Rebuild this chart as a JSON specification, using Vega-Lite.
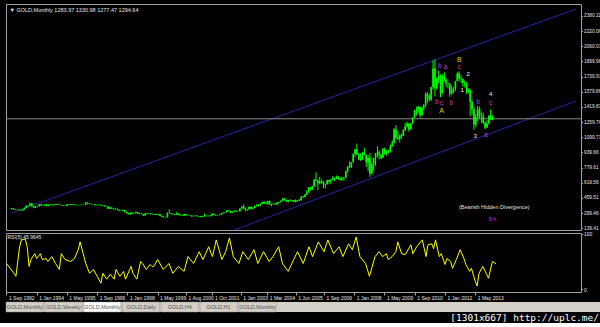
{
"$schema": "https://vega.github.io/schema/vega-lite/v6.json",
"background": "black",
"padding": {"left": 3, "top": 3, "right": 0, "bottom": 0},
"spacing": 0,
"config": {
  "font": "Liberation Sans",
  "view": {"stroke": "#a0a0a0", "strokeWidth": 1},
  "axis": {"labelColor": "#e6e6e6", "labelFontSize": 4.8, "tickColor": "#a0a0a0", "tickSize": 1.5, "domain": false, "grid": false, "title": null, "labelPadding": 1, "labelOverlap": false}
},
"datasets": {
"ohlc": [
{"d":"1992-09","o":341,"h":355,"l":338,"c":349},{"d":"1992-10","o":349,"h":350,"l":336,"c":339},{"d":"1992-11","o":339,"h":341,"l":331,"c":334},{"d":"1992-12","o":334,"h":338,"l":328,"c":333},
{"d":"1993-01","o":333,"h":334,"l":326,"c":330},{"d":"1993-02","o":330,"h":333,"l":326,"c":327},{"d":"1993-03","o":327,"h":340,"l":325,"c":337},{"d":"1993-04","o":337,"h":358,"l":336,"c":354},{"d":"1993-05","o":354,"h":380,"l":352,"c":377},{"d":"1993-06","o":377,"h":382,"l":365,"c":378},{"d":"1993-07","o":378,"h":408,"l":377,"c":401},{"d":"1993-08","o":401,"h":406,"l":365,"c":371},{"d":"1993-09","o":371,"h":372,"l":350,"c":355},{"d":"1993-10","o":355,"h":374,"l":354,"c":370},{"d":"1993-11","o":370,"h":377,"l":365,"c":371},{"d":"1993-12","o":371,"h":394,"l":369,"c":391},
{"d":"1994-01","o":391,"h":396,"l":375,"c":378},{"d":"1994-02","o":378,"h":387,"l":375,"c":381},{"d":"1994-03","o":381,"h":392,"l":377,"c":390},{"d":"1994-04","o":390,"h":392,"l":370,"c":376},{"d":"1994-05","o":376,"h":389,"l":372,"c":387},{"d":"1994-06","o":387,"h":396,"l":383,"c":386},{"d":"1994-07","o":386,"h":389,"l":380,"c":384},{"d":"1994-08","o":384,"h":389,"l":376,"c":386},{"d":"1994-09","o":386,"h":399,"l":385,"c":395},{"d":"1994-10","o":395,"h":397,"l":385,"c":389},{"d":"1994-11","o":389,"h":391,"l":382,"c":383},{"d":"1994-12","o":383,"h":385,"l":376,"c":383},
{"d":"1995-01","o":383,"h":383,"l":372,"c":375},{"d":"1995-02","o":375,"h":381,"l":372,"c":376},{"d":"1995-03","o":376,"h":394,"l":374,"c":392},{"d":"1995-04","o":392,"h":396,"l":386,"c":389},{"d":"1995-05","o":389,"h":393,"l":382,"c":385},{"d":"1995-06","o":385,"h":391,"l":383,"c":387},{"d":"1995-07","o":387,"h":390,"l":381,"c":384},{"d":"1995-08","o":384,"h":388,"l":380,"c":383},{"d":"1995-09","o":383,"h":387,"l":381,"c":384},{"d":"1995-10","o":384,"h":387,"l":380,"c":383},{"d":"1995-11","o":383,"h":389,"l":381,"c":387},{"d":"1995-12","o":387,"h":390,"l":384,"c":387},
{"d":"1996-01","o":387,"h":418,"l":386,"c":405},{"d":"1996-02","o":405,"h":416,"l":398,"c":400},{"d":"1996-03","o":400,"h":404,"l":394,"c":396},{"d":"1996-04","o":396,"h":399,"l":389,"c":392},{"d":"1996-05","o":392,"h":395,"l":388,"c":391},{"d":"1996-06","o":391,"h":392,"l":380,"c":382},{"d":"1996-07","o":382,"h":389,"l":380,"c":385},{"d":"1996-08","o":385,"h":390,"l":383,"c":387},{"d":"1996-09","o":387,"h":388,"l":377,"c":379},{"d":"1996-10","o":379,"h":384,"l":377,"c":379},{"d":"1996-11","o":379,"h":384,"l":369,"c":371},{"d":"1996-12","o":371,"h":373,"l":365,"c":369},
{"d":"1997-01","o":369,"h":370,"l":342,"c":345},{"d":"1997-02","o":345,"h":366,"l":341,"c":358},{"d":"1997-03","o":358,"h":359,"l":345,"c":348},{"d":"1997-04","o":348,"h":349,"l":336,"c":340},{"d":"1997-05","o":340,"h":347,"l":337,"c":345},{"d":"1997-06","o":345,"h":346,"l":333,"c":334},{"d":"1997-07","o":334,"h":335,"l":317,"c":326},{"d":"1997-08","o":326,"h":331,"l":320,"c":325},{"d":"1997-09","o":325,"h":337,"l":320,"c":332},{"d":"1997-10","o":332,"h":334,"l":307,"c":311},{"d":"1997-11","o":311,"h":316,"l":295,"c":296},{"d":"1997-12","o":296,"h":299,"l":283,"c":290},
{"d":"1998-01","o":290,"h":306,"l":278,"c":304},{"d":"1998-02","o":304,"h":306,"l":289,"c":297},{"d":"1998-03","o":297,"h":303,"l":292,"c":301},{"d":"1998-04","o":301,"h":316,"l":299,"c":310},{"d":"1998-05","o":310,"h":312,"l":290,"c":293},{"d":"1998-06","o":293,"h":298,"l":286,"c":296},{"d":"1998-07","o":296,"h":297,"l":286,"c":288},{"d":"1998-08","o":288,"h":291,"l":271,"c":273},{"d":"1998-09","o":273,"h":300,"l":272,"c":294},{"d":"1998-10","o":294,"h":302,"l":288,"c":292},{"d":"1998-11","o":292,"h":300,"l":290,"c":294},{"d":"1998-12","o":294,"h":297,"l":283,"c":288},
{"d":"1999-01","o":288,"h":293,"l":283,"c":287},{"d":"1999-02","o":287,"h":290,"l":280,"c":287},{"d":"1999-03","o":287,"h":290,"l":278,"c":280},{"d":"1999-04","o":280,"h":291,"l":278,"c":286},{"d":"1999-05","o":286,"h":290,"l":266,"c":268},{"d":"1999-06","o":268,"h":272,"l":256,"c":261},{"d":"1999-07","o":261,"h":264,"l":252,"c":255},{"d":"1999-08","o":255,"h":260,"l":251,"c":254},{"d":"1999-09","o":254,"h":307,"l":253,"c":299},{"d":"1999-10","o":299,"h":338,"l":295,"c":299},{"d":"1999-11","o":299,"h":301,"l":287,"c":291},{"d":"1999-12","o":291,"h":293,"l":279,"c":290},
{"d":"2000-01","o":290,"h":292,"l":280,"c":283},{"d":"2000-02","o":283,"h":313,"l":280,"c":293},{"d":"2000-03","o":293,"h":296,"l":276,"c":278},{"d":"2000-04","o":278,"h":285,"l":273,"c":275},{"d":"2000-05","o":275,"h":280,"l":270,"c":272},{"d":"2000-06","o":272,"h":292,"l":270,"c":288},{"d":"2000-07","o":288,"h":290,"l":274,"c":276},{"d":"2000-08","o":276,"h":281,"l":272,"c":277},{"d":"2000-09","o":277,"h":278,"l":270,"c":273},{"d":"2000-10","o":273,"h":274,"l":263,"c":264},{"d":"2000-11","o":264,"h":272,"l":263,"c":270},{"d":"2000-12","o":270,"h":275,"l":268,"c":273},
{"d":"2001-01","o":273,"h":273,"l":262,"c":265},{"d":"2001-02","o":265,"h":268,"l":255,"c":267},{"d":"2001-03","o":267,"h":270,"l":255,"c":258},{"d":"2001-04","o":258,"h":265,"l":255,"c":264},{"d":"2001-05","o":264,"h":294,"l":263,"c":267},{"d":"2001-06","o":267,"h":275,"l":265,"c":270},{"d":"2001-07","o":270,"h":271,"l":264,"c":266},{"d":"2001-08","o":266,"h":278,"l":265,"c":273},{"d":"2001-09","o":273,"h":294,"l":271,"c":293},{"d":"2001-10","o":293,"h":294,"l":276,"c":278},{"d":"2001-11","o":278,"h":282,"l":271,"c":275},{"d":"2001-12","o":275,"h":281,"l":272,"c":279},
{"d":"2002-01","o":279,"h":285,"l":277,"c":282},{"d":"2002-02","o":282,"h":300,"l":281,"c":297},{"d":"2002-03","o":297,"h":305,"l":288,"c":302},{"d":"2002-04","o":302,"h":309,"l":299,"c":309},{"d":"2002-05","o":309,"h":327,"l":307,"c":326},{"d":"2002-06","o":326,"h":332,"l":316,"c":318},{"d":"2002-07","o":318,"h":323,"l":300,"c":304},{"d":"2002-08","o":304,"h":315,"l":300,"c":312},{"d":"2002-09","o":312,"h":327,"l":310,"c":324},{"d":"2002-10","o":324,"h":325,"l":310,"c":317},{"d":"2002-11","o":317,"h":323,"l":316,"c":318},{"d":"2002-12","o":318,"h":349,"l":316,"c":347},
{"d":"2003-01","o":347,"h":373,"l":343,"c":368},{"d":"2003-02","o":368,"h":390,"l":345,"c":348},{"d":"2003-03","o":348,"h":355,"l":320,"c":335},{"d":"2003-04","o":335,"h":341,"l":320,"c":337},{"d":"2003-05","o":337,"h":372,"l":335,"c":364},{"d":"2003-06","o":364,"h":370,"l":340,"c":346},{"d":"2003-07","o":346,"h":360,"l":340,"c":354},{"d":"2003-08","o":354,"h":376,"l":350,"c":375},{"d":"2003-09","o":375,"h":392,"l":369,"c":385},{"d":"2003-10","o":385,"h":393,"l":366,"c":384},{"d":"2003-11","o":384,"h":400,"l":376,"c":398},{"d":"2003-12","o":398,"h":417,"l":397,"c":416},
{"d":"2004-01","o":416,"h":427,"l":398,"c":400},{"d":"2004-02","o":400,"h":421,"l":391,"c":396},{"d":"2004-03","o":396,"h":428,"l":390,"c":426},{"d":"2004-04","o":426,"h":432,"l":383,"c":387},{"d":"2004-05","o":387,"h":396,"l":372,"c":394},{"d":"2004-06","o":394,"h":404,"l":388,"c":395},{"d":"2004-07","o":395,"h":410,"l":385,"c":392},{"d":"2004-08","o":392,"h":418,"l":386,"c":408},{"d":"2004-09","o":408,"h":418,"l":400,"c":416},{"d":"2004-10","o":416,"h":433,"l":410,"c":428},{"d":"2004-11","o":428,"h":456,"l":425,"c":453},{"d":"2004-12","o":453,"h":457,"l":431,"c":438},
{"d":"2005-01","o":438,"h":438,"l":416,"c":423},{"d":"2005-02","o":423,"h":438,"l":410,"c":435},{"d":"2005-03","o":435,"h":447,"l":424,"c":428},{"d":"2005-04","o":428,"h":438,"l":419,"c":436},{"d":"2005-05","o":436,"h":436,"l":414,"c":417},{"d":"2005-06","o":417,"h":443,"l":413,"c":436},{"d":"2005-07","o":436,"h":438,"l":417,"c":429},{"d":"2005-08","o":429,"h":448,"l":426,"c":433},{"d":"2005-09","o":433,"h":475,"l":432,"c":473},{"d":"2005-10","o":473,"h":479,"l":457,"c":470},{"d":"2005-11","o":470,"h":497,"l":466,"c":495},{"d":"2005-12","o":495,"h":541,"l":491,"c":517},
{"d":"2006-01","o":517,"h":571,"l":516,"c":569},{"d":"2006-02","o":569,"h":576,"l":538,"c":556},{"d":"2006-03","o":556,"h":587,"l":540,"c":583},{"d":"2006-04","o":583,"h":654,"l":577,"c":654},{"d":"2006-05","o":654,"h":730,"l":637,"c":643},{"d":"2006-06","o":643,"h":646,"l":543,"c":613},{"d":"2006-07","o":613,"h":680,"l":603,"c":633},{"d":"2006-08","o":633,"h":654,"l":609,"c":624},{"d":"2006-09","o":624,"h":640,"l":560,"c":599},{"d":"2006-10","o":599,"h":609,"l":560,"c":604},{"d":"2006-11","o":604,"h":649,"l":600,"c":647},{"d":"2006-12","o":647,"h":651,"l":609,"c":632},
{"d":"2007-01","o":632,"h":655,"l":604,"c":650},{"d":"2007-02","o":650,"h":690,"l":647,"c":670},{"d":"2007-03","o":670,"h":673,"l":637,"c":663},{"d":"2007-04","o":663,"h":695,"l":660,"c":681},{"d":"2007-05","o":681,"h":692,"l":650,"c":659},{"d":"2007-06","o":659,"h":673,"l":640,"c":650},{"d":"2007-07","o":650,"h":682,"l":643,"c":666},{"d":"2007-08","o":666,"h":681,"l":640,"c":673},{"d":"2007-09","o":673,"h":746,"l":670,"c":742},{"d":"2007-10","o":742,"h":794,"l":726,"c":790},{"d":"2007-11","o":790,"h":847,"l":776,"c":783},{"d":"2007-12","o":783,"h":840,"l":776,"c":834},
{"d":"2008-01","o":834,"h":931,"l":834,"c":923},{"d":"2008-02","o":923,"h":975,"l":890,"c":972},{"d":"2008-03","o":972,"h":1033,"l":913,"c":917},{"d":"2008-04","o":917,"h":933,"l":862,"c":864},{"d":"2008-05","o":864,"h":930,"l":850,"c":886},{"d":"2008-06","o":886,"h":945,"l":861,"c":928},{"d":"2008-07","o":928,"h":988,"l":910,"c":912},{"d":"2008-08","o":912,"h":915,"l":786,"c":834},{"d":"2008-09","o":834,"h":913,"l":740,"c":880},{"d":"2008-10","o":880,"h":933,"l":681,"c":718},{"d":"2008-11","o":718,"h":830,"l":705,"c":815},{"d":"2008-12","o":815,"h":882,"l":746,"c":882},
{"d":"2009-01","o":882,"h":934,"l":800,"c":927},{"d":"2009-02","o":927,"h":1006,"l":890,"c":942},{"d":"2009-03","o":942,"h":962,"l":866,"c":916},{"d":"2009-04","o":916,"h":923,"l":866,"c":883},{"d":"2009-05","o":883,"h":982,"l":880,"c":979},{"d":"2009-06","o":979,"h":990,"l":915,"c":927},{"d":"2009-07","o":927,"h":962,"l":905,"c":954},{"d":"2009-08","o":954,"h":967,"l":932,"c":955},{"d":"2009-09","o":955,"h":1023,"l":940,"c":1008},{"d":"2009-10","o":1008,"h":1070,"l":1000,"c":1040},{"d":"2009-11","o":1040,"h":1195,"l":1035,"c":1182},{"d":"2009-12","o":1182,"h":1227,"l":1075,"c":1097},
{"d":"2010-01","o":1097,"h":1162,"l":1072,"c":1081},{"d":"2010-02","o":1081,"h":1128,"l":1045,"c":1118},{"d":"2010-03","o":1118,"h":1139,"l":1088,"c":1113},{"d":"2010-04","o":1113,"h":1180,"l":1112,"c":1180},{"d":"2010-05","o":1180,"h":1249,"l":1165,"c":1213},{"d":"2010-06","o":1213,"h":1265,"l":1200,"c":1244},{"d":"2010-07","o":1244,"h":1245,"l":1157,"c":1181},{"d":"2010-08","o":1181,"h":1250,"l":1180,"c":1247},{"d":"2010-09","o":1247,"h":1310,"l":1242,"c":1307},{"d":"2010-10","o":1307,"h":1388,"l":1306,"c":1357},{"d":"2010-11","o":1357,"h":1424,"l":1330,"c":1386},{"d":"2010-12","o":1386,"h":1432,"l":1357,"c":1421},
{"d":"2011-01","o":1421,"h":1424,"l":1308,"c":1333},{"d":"2011-02","o":1333,"h":1414,"l":1330,"c":1410},{"d":"2011-03","o":1410,"h":1448,"l":1382,"c":1439},{"d":"2011-04","o":1439,"h":1575,"l":1420,"c":1556},{"d":"2011-05","o":1556,"h":1577,"l":1463,"c":1536},{"d":"2011-06","o":1536,"h":1560,"l":1478,"c":1500},{"d":"2011-07","o":1500,"h":1632,"l":1480,"c":1628},{"d":"2011-08","o":1628,"h":1912,"l":1600,"c":1826},{"d":"2011-09","o":1826,"h":1921,"l":1532,"c":1620},{"d":"2011-10","o":1620,"h":1732,"l":1600,"c":1722},{"d":"2011-11","o":1722,"h":1803,"l":1670,"c":1746},{"d":"2011-12","o":1746,"h":1764,"l":1523,"c":1565},
{"d":"2012-01","o":1565,"h":1764,"l":1563,"c":1738},{"d":"2012-02","o":1738,"h":1790,"l":1690,"c":1710},{"d":"2012-03","o":1710,"h":1720,"l":1627,"c":1669},{"d":"2012-04","o":1669,"h":1680,"l":1613,"c":1664},{"d":"2012-05","o":1664,"h":1670,"l":1527,"c":1561},{"d":"2012-06","o":1561,"h":1641,"l":1547,"c":1604},{"d":"2012-07","o":1604,"h":1628,"l":1564,"c":1614},{"d":"2012-08","o":1614,"h":1692,"l":1585,"c":1692},{"d":"2012-09","o":1692,"h":1787,"l":1690,"c":1772},{"d":"2012-10","o":1772,"h":1796,"l":1692,"c":1719},{"d":"2012-11","o":1719,"h":1755,"l":1672,"c":1713},{"d":"2012-12","o":1713,"h":1722,"l":1635,"c":1675},
{"d":"2013-01","o":1675,"h":1698,"l":1626,"c":1663},{"d":"2013-02","o":1663,"h":1684,"l":1555,"c":1578},{"d":"2013-03","o":1578,"h":1617,"l":1563,"c":1595},{"d":"2013-04","o":1595,"h":1605,"l":1321,"c":1472},{"d":"2013-05","o":1472,"h":1488,"l":1338,"c":1393},{"d":"2013-06","o":1393,"h":1416,"l":1180,"c":1234},{"d":"2013-07","o":1234,"h":1348,"l":1207,"c":1312},{"d":"2013-08","o":1312,"h":1434,"l":1270,"c":1395},{"d":"2013-09","o":1395,"h":1424,"l":1291,"c":1327},{"d":"2013-10","o":1327,"h":1362,"l":1251,"c":1323},{"d":"2013-11","o":1323,"h":1361,"l":1241,"c":1253},{"d":"2013-12","o":1253,"h":1267,"l":1182,"c":1201},
{"d":"2014-01","o":1201,"h":1280,"l":1200,"c":1244},{"d":"2014-02","o":1244,"h":1332,"l":1238,"c":1326},{"d":"2014-03","o":1326,"h":1392,"l":1287,"c":1284},{"d":"2014-04","o":1283.97,"h":1330.98,"l":1277.47,"c":1294.64}
],
"rsi": [
{"d":"1992-09","r":46.4},{"d":"1993-01","r":28.6},{"d":"1993-02","r":23.2},{"d":"1993-04","r":76.8},{"d":"1993-05","r":89.3},{"d":"1993-07","r":91.1},{"d":"1993-08","r":76.8},{"d":"1993-09","r":41.1},{"d":"1993-10","r":53.6},{"d":"1993-12","r":64.3},{"d":"1994-01","r":55.4},{"d":"1994-03","r":64.3},{"d":"1994-04","r":53.6},{"d":"1994-06","r":55.4},{"d":"1994-07","r":50},{"d":"1994-09","r":58.9},{"d":"1994-11","r":46.4},{"d":"1995-01","r":35.7},{"d":"1995-02","r":64.3},{"d":"1995-04","r":53.6},{"d":"1995-07","r":50},{"d":"1995-09","r":55.4},{"d":"1995-11","r":71.4},{"d":"1995-12","r":85.7},{"d":"1996-02","r":58.9},{"d":"1996-03","r":46.4},{"d":"1996-05","r":28.6},{"d":"1996-07","r":35.7},{"d":"1996-09","r":23.2},{"d":"1996-11","r":10.7},{"d":"1996-12","r":28.6},{"d":"1997-02","r":17.9},{"d":"1997-04","r":26.8},{"d":"1997-06","r":17.9},{"d":"1997-07","r":35.7},{"d":"1997-09","r":23.2},{"d":"1997-11","r":32.1},{"d":"1997-12","r":17.9},{"d":"1998-03","r":41.1},{"d":"1998-04","r":28.6},{"d":"1998-06","r":17.9},{"d":"1998-08","r":50},{"d":"1998-09","r":46.4},{"d":"1998-11","r":35.7},{"d":"1999-01","r":44.6},{"d":"1999-02","r":41.1},
{"d":"1999-03","r":41.1},{"d":"1999-05","r":53.6},{"d":"1999-08","r":35.7},{"d":"1999-11","r":46.4},{"d":"2000-01","r":28.6},{"d":"2000-04","r":41.1},{"d":"2000-07","r":32.1},{"d":"2000-09","r":58.9},{"d":"2000-12","r":46.4},{"d":"2001-03","r":67.9},{"d":"2001-05","r":53.6},{"d":"2001-08","r":76.8},{"d":"2001-10","r":58.9},{"d":"2001-12","r":89.3},{"d":"2002-03","r":53.6},{"d":"2002-05","r":67.9},{"d":"2002-07","r":92.9},{"d":"2002-09","r":58.9},{"d":"2002-12","r":46.4},{"d":"2003-02","r":67.9},{"d":"2003-05","r":53.6},{"d":"2003-08","r":71.4},{"d":"2003-10","r":46.4},{"d":"2004-01","r":67.9},{"d":"2004-04","r":50},{"d":"2004-06","r":58.9},{"d":"2004-09","r":76.8},{"d":"2004-11","r":46.4},{"d":"2005-02","r":32.1},{"d":"2005-05","r":53.6},{"d":"2005-07","r":67.9},{"d":"2005-10","r":46.4},{"d":"2006-01","r":76.8},{"d":"2006-03","r":58.9},{"d":"2006-06","r":85.7},{"d":"2006-09","r":67.9},{"d":"2006-11","r":89.3},{"d":"2007-02","r":64.3},{"d":"2007-05","r":76.8},{"d":"2007-07","r":58.9},{"d":"2007-10","r":82.1},{"d":"2007-12","r":71.4},{"d":"2008-02","r":94.6},{"d":"2008-04","r":58.9},{"d":"2008-07","r":46.4},{"d":"2008-09","r":23.2},{"d":"2008-12","r":58.9},{"d":"2009-02","r":67.9},
{"d":"2009-04","r":58.9},{"d":"2009-06","r":64.3},{"d":"2009-07","r":53.6},{"d":"2009-09","r":58.9},{"d":"2009-11","r":67.9},{"d":"2009-12","r":85.7},{"d":"2010-02","r":64.3},{"d":"2010-04","r":62.5},{"d":"2010-07","r":80.4},{"d":"2010-08","r":64.3},{"d":"2010-10","r":76.8},{"d":"2011-01","r":89.3},{"d":"2011-03","r":58.9},{"d":"2011-04","r":80.4},{"d":"2011-06","r":82.1},{"d":"2011-07","r":73.2},{"d":"2011-08","r":89.3},{"d":"2011-10","r":58.9},{"d":"2011-11","r":64.3},{"d":"2012-01","r":44.6},{"d":"2012-02","r":55.4},{"d":"2012-04","r":50},{"d":"2012-05","r":37.5},{"d":"2012-07","r":53.6},{"d":"2012-09","r":71.4},{"d":"2012-11","r":55.4},{"d":"2012-12","r":44.6},{"d":"2013-02","r":32.1},{"d":"2013-03","r":37.5},{"d":"2013-05","r":14.3},{"d":"2013-06","r":5.4},{"d":"2013-07","r":28.6},{"d":"2013-09","r":41.1},{"d":"2013-11","r":26.8},{"d":"2013-12","r":19.6},{"d":"2014-02","r":50},{"d":"2014-04","r":45.96}
],
"chan": [
{"ln":"up","d":"1992-09-01","p":300},{"ln":"up","d":"2017-12-29","p":2454},
{"ln":"lo","d":"1992-09-01","p":-769},{"ln":"lo","d":"2017-12-29","p":1482}
],
"hline": [{"p":1294.64}],
"notes": [
{"d":"2012-10-04","p":1915,"s":"B","k":"AB"},
{"d":"2011-11-19","p":1852,"s":"b","k":"abc"},
{"d":"2012-02-22","p":1842,"s":"a","k":"abc"},
{"d":"2012-10-01","p":1842,"s":"c","k":"abc"},
{"d":"2013-02-28","p":1768,"s":"2","k":"num"},
{"d":"2012-11-22","p":1599,"s":"1","k":"num"},
{"d":"2011-10-01","p":1472,"s":"b","k":"abc"},
{"d":"2011-12-16","p":1461,"s":"c","k":"abc"},
{"d":"2012-05-28","p":1461,"s":"b","k":"abc"},
{"d":"2011-12-19","p":1377,"s":"A","k":"AB"},
{"d":"2013-08-07","p":1472,"s":"b","k":"abc"},
{"d":"2014-03-01","p":1556,"s":"4","k":"num"},
{"d":"2014-03-01","p":1461,"s":"c","k":"abc"},
{"d":"2013-06-19","p":1113,"s":"3","k":"num"},
{"d":"2013-12-13","p":1124,"s":"a","k":"abc"},
{"d":"2014-05-01","p":363,"s":"(Bearish Hidden Divergence)","k":"note"},
{"d":"2014-04-01","p":236,"s":"B/4","k":"wave"}
],
"tabs": [
{"id":"t1","t":"GOLD,Monthly","on":"n"},{"id":"t2","t":"GOLD,Weekly","on":"n"},{"id":"t3","t":"GOLD,Monthly","on":"y"},{"id":"t4","t":"GOLD,Daily","on":"n"},{"id":"t5","t":"GOLD,H4","on":"n"},{"id":"t6","t":"GOLD,H1","on":"n"},{"id":"t7","t":"GOLD,Monthly","on":"n"}
]
},
"vconcat": [
{
  "width": 575, "height": 226,
  "title": {"text": "▼ GOLD,Monthly  1283.97 1330.98 1277.47 1294.64", "anchor": "start", "orient": "top", "offset": -9, "fontSize": 5.5, "fontWeight": "normal", "color": "#e6e6e6", "dx": 4},
  "layer": [
    {"data": {"name": "chan"}, "mark": {"type": "line", "color": "#2424a6", "strokeWidth": 1, "clip": true},
     "encoding": {
       "x": {"field": "d", "type": "temporal", "scale": {"type": "utc", "domain": [{"year": 1992, "month": 8, "date": 25, "utc": true}, {"year": 2017, "month": 12, "date": 29, "utc": true}]}, "axis": null},
       "y": {"field": "p", "type": "quantitative", "scale": {"domain": [120.3, 2506.8], "nice": false, "zero": false},
             "axis": {"orient": "right", "values": [2380.11, 2220.06, 2060.01, 1899.96, 1739.91, 1579.86, 1419.81, 1259.76, 1099.71, 939.66, 779.61, 619.56, 459.51, 299.46, 139.41], "tickCount": 40, "format": ".2f", "labelOverlap": false, "labelFontSize": 4.8}},
       "detail": {"field": "ln"}}},
    {"data": {"name": "hline"}, "mark": {"type": "rule", "color": "#8c8c8c", "strokeWidth": 1},
     "encoding": {"y": {"field": "p", "type": "quantitative", "scale": {"domain": [120.3, 2506.8], "nice": false, "zero": false}}}},
    {"data": {"name": "ohlc"}, "mark": {"type": "rule", "color": "#00ff00", "strokeWidth": 1},
     "encoding": {
       "x": {"field": "d", "type": "temporal", "scale": {"type": "utc", "domain": [{"year": 1992, "month": 8, "date": 25, "utc": true}, {"year": 2017, "month": 12, "date": 29, "utc": true}]}},
       "y": {"field": "l", "type": "quantitative", "scale": {"domain": [120.3, 2506.8], "nice": false, "zero": false}},
       "y2": {"field": "h"}}},
    {"data": {"name": "ohlc"}, "mark": {"type": "bar", "color": "#00ff00", "size": 1.6},
     "encoding": {
       "x": {"field": "d", "type": "temporal", "scale": {"type": "utc", "domain": [{"year": 1992, "month": 8, "date": 25, "utc": true}, {"year": 2017, "month": 12, "date": 29, "utc": true}]}},
       "y": {"field": "o", "type": "quantitative", "scale": {"domain": [120.3, 2506.8], "nice": false, "zero": false}},
       "y2": {"field": "c"}}},
    {"data": {"name": "notes"}, "mark": {"type": "text", "font": "Liberation Sans", "align": "center", "baseline": "middle"},
     "encoding": {
       "x": {"field": "d", "type": "temporal", "scale": {"type": "utc", "domain": [{"year": 1992, "month": 8, "date": 25, "utc": true}, {"year": 2017, "month": 12, "date": 29, "utc": true}]}},
       "y": {"field": "p", "type": "quantitative", "scale": {"domain": [120.3, 2506.8], "nice": false, "zero": false}},
       "text": {"field": "s"},
       "color": {"field": "k", "type": "nominal", "scale": {"domain": ["AB", "abc", "num", "note", "wave"], "range": ["#e6c21a", "#c43cc4", "#f0f0f0", "#e8e0d0", "#c020c8"]}, "legend": null},
       "size": {"field": "k", "type": "ordinal", "scale": {"domain": ["AB", "abc", "num", "note", "wave"], "range": [7, 5, 6.5, 7, 7]}, "legend": null}}}
  ]
},
{
  "width": 575, "height": 59,
  "data": {"name": "rsi"},
  "title": {"text": "RSI(5) 45.9645", "anchor": "start", "orient": "top", "offset": -8, "fontSize": 5, "fontWeight": "normal", "color": "#e6e6e6", "dx": 3},
  "mark": {"type": "line", "color": "#ffff00", "strokeWidth": 1},
  "encoding": {
    "x": {"field": "d", "type": "temporal", "scale": {"type": "utc", "domain": [{"year": 1992, "month": 8, "date": 25, "utc": true}, {"year": 2017, "month": 12, "date": 29, "utc": true}]},
          "axis": {"values": [{"year":1992,"month":9,"date":1,"utc":true},{"year":1994,"month":1,"date":1,"utc":true},{"year":1995,"month":5,"date":1,"utc":true},{"year":1996,"month":9,"date":1,"utc":true},{"year":1998,"month":1,"date":1,"utc":true},{"year":1999,"month":5,"date":1,"utc":true},{"year":2000,"month":8,"date":1,"utc":true},{"year":2001,"month":10,"date":1,"utc":true},{"year":2003,"month":1,"date":1,"utc":true},{"year":2004,"month":3,"date":1,"utc":true},{"year":2005,"month":6,"date":1,"utc":true},{"year":2006,"month":9,"date":1,"utc":true},{"year":2008,"month":1,"date":1,"utc":true},{"year":2009,"month":5,"date":1,"utc":true},{"year":2010,"month":9,"date":1,"utc":true},{"year":2012,"month":1,"date":1,"utc":true},{"year":2013,"month":5,"date":1,"utc":true}],
                   "tickCount": 40, "format": "%-d %b %Y", "labelAlign": "left", "labelOffset": 2, "tickSize": 3, "labelPadding": 0, "labelFontSize": 5, "labelOverlap": false}},
    "y": {"field": "r", "type": "quantitative", "scale": {"domain": [-5.4, 101.8], "nice": false, "zero": false},
          "axis": {"orient": "right", "values": [0, 100], "labelFontSize": 5}}
  }
},
{
  "width": 596, "height": 10,
  "data": {"name": "tabs"},
  "view": {"fill": "#d4d0c8", "stroke": null},
  "title": {"text": "[1301x667] http://uplc.me/", "orient": "bottom", "anchor": "end", "font": "DejaVu Sans Mono", "fontSize": 9.5, "fontWeight": "normal", "color": "#ffffff", "offset": 1, "dx": -3},
  "layer": [
    {"mark": {"type": "rect", "stroke": "#909090", "strokeWidth": 0.5},
     "encoding": {
       "x": {"field": "id", "type": "nominal", "scale": {"range": [0, 270], "paddingInner": 0.04, "paddingOuter": 0}, "axis": null},
       "fill": {"field": "on", "type": "nominal", "scale": {"domain": ["y", "n"], "range": ["#ffffff", "#d4d0c8"]}, "legend": null}}},
    {"mark": {"type": "text", "fontSize": 5.5, "color": "#505050"},
     "encoding": {
       "x": {"field": "id", "type": "nominal", "axis": null},
       "text": {"field": "t"}}}
  ]
}
]
}
